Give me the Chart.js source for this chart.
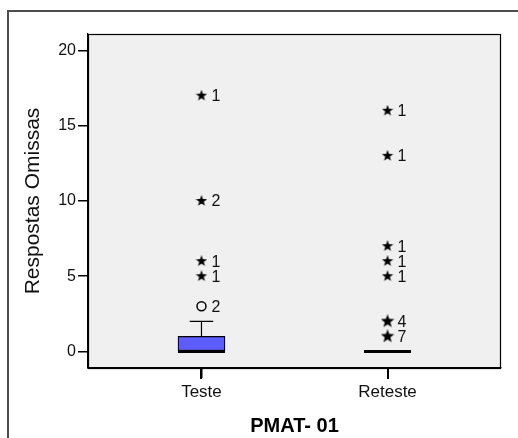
<!DOCTYPE html>
<html>
<head>
<meta charset="utf-8">
<script src="https://cdn.jsdelivr.net/npm/chart.js@4/dist/chart.umd.min.js"></script>
<style>
html,body{margin:0;padding:0;background:#fff;}
#wrap{width:518px;height:438px;}
</style>
</head>
<body>
<div id="wrap"><canvas id="c" width="518" height="438"></canvas></div>
<script>
// ---- data ----
const categories = ['Teste', 'Reteste'];
const categoryPos = [1, 2];
const q1 = [0, 0];
const median = [0, 0];
const q3 = [1, 0];
const whiskerLow = [0, 0];
const whiskerHigh = [2, 0];
const testeOutliers = [3];
const testeOutlierLabels = ['2'];
const testeExtremes = [5, 6, 10, 17];
const testeExtremeLabels = ['1', '1', '2', '1'];
const retesteExtremes = [1, 2, 5, 6, 7, 13, 16];
const retesteExtremeLabels = ['7', '4', '1', '1', '1', '1', '1'];
const yTicks = [0, 5, 10, 15, 20];
const yTitle = 'Respostas Omissas';
const xTitle = 'PMAT- 01';

const FONT = "'Liberation Sans', Arial, Helvetica, sans-serif";

function makeStar(size, inner) {
  const c = document.createElement('canvas');
  c.width = size; c.height = size;
  const g = c.getContext('2d');
  const cx = size / 2, cy = size / 2, ro = size / 2, ri = size * inner;
  g.beginPath();
  for (let i = 0; i < 10; i++) {
    const a = -Math.PI / 2 + i * Math.PI / 5;
    const r = i % 2 ? ri : ro;
    const x = cx + r * Math.cos(a), y = cy + r * Math.sin(a);
    if (i === 0) g.moveTo(x, y); else g.lineTo(x, y);
  }
  g.closePath();
  g.fillStyle = '#000';
  g.fill();
  return c;
}
const starSmall = makeStar(12, 0.2);
const starBig = makeStar(14, 0.21);

function pts(x, arr) { return arr.map(v => ({x: x, y: v})); }

const frameAndBg = {
  id: 'frameAndBg',
  beforeDraw(chart) {
    const {ctx, chartArea: a} = chart;
    ctx.save();
    ctx.strokeStyle = '#4d4d4d';
    ctx.lineWidth = 2;
    ctx.beginPath();
    ctx.moveTo(8, 440);
    ctx.lineTo(8, 11);
    ctx.lineTo(520, 11);
    ctx.stroke();
    ctx.fillStyle = '#f0f0f0';
    ctx.fillRect(a.left, a.top, a.right - a.left, a.bottom - a.top);
    ctx.restore();
  },
  afterDraw(chart) {
    const {ctx, chartArea: a} = chart;
    const x = chart.scales.x;
    ctx.save();
    ctx.strokeStyle = '#000';
    ctx.lineWidth = 1.2;
    ctx.strokeRect(a.left + 0.5, a.top + 0.5, a.right - a.left - 1, a.bottom - a.top);
    ctx.fillStyle = '#000';
    categoryPos.forEach(v => {
      const px = Math.round(x.getPixelForValue(v));
      ctx.fillRect(px - 1, a.bottom, 2, 11);
    });
    ctx.restore();
  }
};

const boxParts = {
  id: 'boxParts',
  afterDatasetsDraw(chart) {
    const {ctx, scales: {x, y}} = chart;
    const boxMeta = chart.getDatasetMeta(0);
    ctx.save();
    categoryPos.forEach((pos, i) => {
      const cx = x.getPixelForValue(pos);
      const bw = boxMeta.data[i] ? boxMeta.data[i].width : 47;
      const half = bw / 2;
      ctx.strokeStyle = '#000';
      ctx.lineWidth = 1.2;
      if (whiskerHigh[i] > q3[i]) {
        const yTop = y.getPixelForValue(whiskerHigh[i]);
        const yQ3 = y.getPixelForValue(q3[i]);
        ctx.beginPath();
        ctx.moveTo(cx, yQ3); ctx.lineTo(cx, yTop);
        ctx.moveTo(cx - half / 2, yTop); ctx.lineTo(cx + half / 2, yTop);
        ctx.stroke();
      }
      if (whiskerLow[i] < q1[i]) {
        const yBot = y.getPixelForValue(whiskerLow[i]);
        const yQ1 = y.getPixelForValue(q1[i]);
        ctx.beginPath();
        ctx.moveTo(cx, yQ1); ctx.lineTo(cx, yBot);
        ctx.moveTo(cx - half / 2, yBot); ctx.lineTo(cx + half / 2, yBot);
        ctx.stroke();
      }
      const ym = y.getPixelForValue(median[i]);
      ctx.lineWidth = 3;
      ctx.beginPath();
      ctx.moveTo(cx - half, ym); ctx.lineTo(cx + half, ym);
      ctx.stroke();
    });
    ctx.fillStyle = '#111';
    ctx.font = '16px ' + FONT;
    ctx.textAlign = 'left';
    ctx.textBaseline = 'middle';
    chart.data.datasets.forEach((ds, di) => {
      if (!ds.pointLabels) return;
      const meta = chart.getDatasetMeta(di);
      meta.data.forEach((el, k) => {
        ctx.fillText(ds.pointLabels[k], el.x + 10, el.y + 1);
      });
    });
    ctx.restore();
  }
};

new Chart(document.getElementById('c'), {
  type: 'bar',
  data: {
    datasets: [
      {
        type: 'bar',
        data: categoryPos.map((p, i) => ({x: p, y: [q1[i], q3[i]]})),
        backgroundColor: '#5c5cff',
        borderColor: '#000',
        borderWidth: 1.2,
        borderSkipped: false,
        barThickness: 47,
        order: 2
      },
      {
        type: 'scatter',
        data: pts(categoryPos[0], testeOutliers),
        pointLabels: testeOutlierLabels,
        pointStyle: 'circle',
        pointRadius: 4.5,
        pointBorderWidth: 1.5,
        pointBorderColor: '#000',
        pointBackgroundColor: 'rgba(0,0,0,0)',
        order: 1
      },
      {
        type: 'scatter',
        data: pts(categoryPos[0], testeExtremes),
        pointLabels: testeExtremeLabels,
        pointStyle: starSmall,
        order: 1
      },
      {
        type: 'scatter',
        data: pts(categoryPos[1], retesteExtremes),
        pointLabels: retesteExtremeLabels,
        pointStyle: retesteExtremes.map(v => v <= 2 ? starBig : starSmall),
        order: 1
      }
    ]
  },
  options: {
    responsive: false,
    animation: false,
    layout: {padding: {left: 0, top: 34, right: 17, bottom: 0}},
    plugins: {legend: {display: false}, tooltip: {enabled: false}},
    scales: {
      x: {
        type: 'linear',
        min: 0.39,
        max: 2.61,
        offset: false,
        afterBuildTicks(s) { s.ticks = categoryPos.map(v => ({value: v})); },
        afterFit(s) { s.height = 70; },
        ticks: {
          callback: (v) => categories[categoryPos.indexOf(v)] || '',
          color: '#111',
          font: {family: FONT, size: 17},
          padding: 4,
          maxRotation: 0,
          autoSkip: false
        },
        grid: {display: true, offset: false, drawOnChartArea: false, drawTicks: true, tickLength: 10, color: '#000', lineWidth: 1.5},
        border: {display: true, color: '#000', width: 1.2},
        title: {display: true, text: xTitle, color: '#000', font: {family: FONT, size: 20, weight: 'bold'}, padding: {top: 0, bottom: 0}}
      },
      y: {
        type: 'linear',
        min: -1.1,
        max: 21.1,
        afterBuildTicks(s) { s.ticks = yTicks.map(v => ({value: v})); },
        afterFit(s) { s.width = 88; },
        ticks: {
          color: '#111',
          font: {family: FONT, size: 16},
          padding: 2
        },
        grid: {display: true, drawOnChartArea: false, drawTicks: true, tickLength: 10, color: '#000', lineWidth: 1.5},
        border: {display: true, color: '#000', width: 1.2},
        title: {display: true, text: yTitle, color: '#111', font: {family: FONT, size: 21}, padding: {top: 21, bottom: 0}}
      }
    }
  },
  plugins: [frameAndBg, boxParts]
});
</script>
</body>
</html>
